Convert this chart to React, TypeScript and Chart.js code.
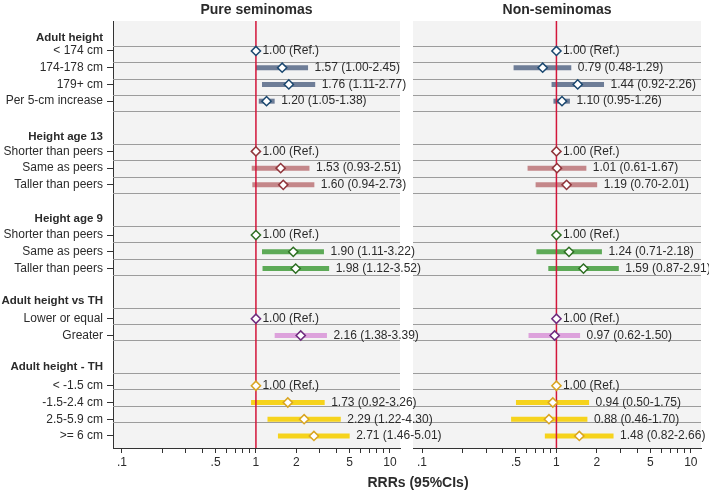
import React, { useEffect, useRef } from "react";
import { Chart, registerables } from "chart.js";
Chart.register(...registerables);

// ---------- data ----------
const groupNames = ["Adult height", "Height age 13", "Height age 9", "Adult height vs TH", "Adult height - TH"];
const groupRows = [0.2, 6.1, 11.05, 15.95, 19.85];

const categories = [
  "< 174 cm", "174-178 cm", "179+ cm", "Per 5-cm increase",
  "Shorter than peers", "Same as peers", "Taller than peers",
  "Shorter than peers", "Same as peers", "Taller than peers",
  "Lower or equal", "Greater",
  "< -1.5 cm", "-1.5-2.4 cm", "2.5-5.9 cm", ">= 6 cm",
];
const categoryRows = [1, 2, 3, 4, 7, 8, 9, 12, 13, 14, 17, 18, 21, 22, 23, 24];
const categoryGroup = [0, 0, 0, 0, 1, 1, 1, 2, 2, 2, 3, 3, 4, 4, 4, 4];

const pureEst = [1.0, 1.57, 1.76, 1.2, 1.0, 1.53, 1.6, 1.0, 1.9, 1.98, 1.0, 2.16, 1.0, 1.73, 2.29, 2.71];
const pureLo = [null, 1.0, 1.11, 1.05, null, 0.93, 0.94, null, 1.11, 1.12, null, 1.38, null, 0.92, 1.22, 1.46];
const pureHi = [null, 2.45, 2.77, 1.38, null, 2.51, 2.73, null, 3.22, 3.52, null, 3.39, null, 3.26, 4.3, 5.01];

const nonEst = [1.0, 0.79, 1.44, 1.1, 1.0, 1.01, 1.19, 1.0, 1.24, 1.59, 1.0, 0.97, 1.0, 0.94, 0.88, 1.48];
const nonLo = [null, 0.48, 0.92, 0.95, null, 0.61, 0.7, null, 0.71, 0.87, null, 0.62, null, 0.5, 0.46, 0.82];
const nonHi = [null, 1.29, 2.26, 1.26, null, 1.67, 2.01, null, 2.18, 2.91, null, 1.5, null, 1.75, 1.7, 2.66];

const xTickValues = [0.1, 0.2, 0.3, 0.4, 0.5, 0.6, 0.7, 0.8, 0.9, 1, 2, 3, 4, 5, 6, 7, 8, 9, 10];
const xTickLabelValues = [0.1, 0.5, 1, 2, 5, 10];
const xTickLabels = [".1", ".5", "1", "2", "5", "10"];

const gridRows = [0.7, 1.68, 2.65, 3.63, 4.61, 6.56, 7.54, 8.51, 9.49, 11.44, 12.42, 13.4, 14.37, 16.33, 17.3, 18.28, 20.23, 21.21, 22.19, 23.17];

const panelTitles = ["Pure seminomas", "Non-seminomas"];
const axisTitle = "RRRs (95%CIs)";
const REF_VALUE = 1;
const X_MIN = 0.0857;
const X_MAX = 11.9;
const Y_MIN = -0.79;
const Y_MAX = 24.72;

// ---------- styles ----------
const ciColors = ["#6e7d97", "#c4878a", "#5daa57", "#dda2dc", "#f6d31c"];
const markerColors = ["#1a476f", "#90353b", "#2d6e22", "#6e2c7e", "#d9a521"];
const FONT = "'Liberation Sans', Arial, Helvetica, sans-serif";
const TEXT = "#2b2b2b";

function fmt(v: number) {
  return v.toFixed(2);
}

function isHeader(v: any) {
  return groupRows.some((g) => Math.abs(g - Number(v)) < 1e-6);
}

function makeConfig(panel: number, est: number[], lo: (number | null)[], hi: (number | null)[]): any {
  const isLeft = panel === 0;
  const datasets: any[] = [];
  est.forEach((e, i) => {
    if (lo[i] != null && hi[i] != null) {
      datasets.push({
        data: [
          { x: lo[i], y: categoryRows[i] },
          { x: hi[i], y: categoryRows[i] },
        ],
        showLine: true,
        borderColor: ciColors[categoryGroup[i]],
        borderWidth: 5,
        borderCapStyle: "butt",
        pointRadius: 0,
        order: 2,
      });
    }
  });
  datasets.push({
    data: [
      { x: REF_VALUE, y: Y_MIN },
      { x: REF_VALUE, y: Y_MAX },
    ],
    showLine: true,
    borderColor: "#d3163a",
    borderWidth: 1.5,
    pointRadius: 0,
    order: 1,
  });
  datasets.push({
    data: est.map((e, i) => ({ x: e, y: categoryRows[i] })),
    showLine: false,
    pointStyle: "rectRot",
    pointRadius: 4.6,
    pointBackgroundColor: "#ffffff",
    pointBorderColor: categoryGroup.map((g) => markerColors[g]),
    pointBorderWidth: 1.5,
    order: 0,
  });

  const bgPlugin = {
    id: "bgPlugin" + panel,
    beforeDraw(chart: any) {
      const { ctx, chartArea } = chart;
      ctx.save();
      ctx.fillStyle = "#f3f3f3";
      ctx.fillRect(chartArea.left, chartArea.top, chartArea.right - chartArea.left, chartArea.bottom - chartArea.top);
      ctx.restore();
    },
    beforeDatasetsDraw(chart: any) {
      const { ctx, chartArea } = chart;
      const ys = chart.scales.y;
      ctx.save();
      ctx.strokeStyle = "#9c9c9c";
      ctx.lineWidth = 1;
      gridRows.forEach((r) => {
        const py = Math.round(ys.getPixelForValue(r)) + 0.5;
        ctx.beginPath();
        ctx.moveTo(chartArea.left, py);
        ctx.lineTo(chartArea.right, py);
        ctx.stroke();
      });
      ctx.restore();
    },
    afterDraw(chart: any) {
      const { ctx, chartArea } = chart;
      const xs = chart.scales.x;
      const ys = chart.scales.y;
      ctx.save();
      ctx.font = `12px ${FONT}`;
      ctx.fillStyle = TEXT;
      ctx.textBaseline = "middle";
      ctx.textAlign = "left";
      est.forEach((e, i) => {
        const anchor = hi[i] != null ? (hi[i] as number) : e;
        const px = xs.getPixelForValue(anchor) + 6.5;
        const py = ys.getPixelForValue(categoryRows[i]);
        const txt = hi[i] != null ? `${fmt(e)} (${fmt(lo[i] as number)}-${fmt(hi[i] as number)})` : `${fmt(e)} (Ref.)`;
        ctx.fillText(txt, px, py);
      });
      ctx.font = `bold 14px ${FONT}`;
      ctx.textAlign = "center";
      ctx.fillText(panelTitles[panel], (chartArea.left + chartArea.right) / 2, 10);
      if (!isLeft) {
        ctx.fillText(axisTitle, 418, 483);
      }
      ctx.restore();
    },
  };

  return {
    type: "scatter",
    data: { datasets },
    plugins: [bgPlugin],
    options: {
      responsive: false,
      animation: false,
      events: [],
      layout: {
        padding: isLeft ? { top: 21, left: 0, right: 709 - 400, bottom: 0 } : { top: 21, left: 413, right: 8, bottom: 0 },
      },
      plugins: { legend: { display: false }, tooltip: { enabled: false }, title: { display: false } },
      scales: {
        x: {
          type: "logarithmic",
          min: X_MIN,
          max: X_MAX,
          afterBuildTicks: (s: any) => {
            s.ticks = xTickValues.map((v) => ({ value: v }));
          },
          afterFit: (s: any) => {
            s.height = 45;
          },
          ticks: {
            autoSkip: false,
            maxRotation: 0,
            padding: 2,
            color: TEXT,
            font: { family: FONT, size: 12 },
            callback: (v: any) => {
              const idx = xTickLabelValues.findIndex((t) => Math.abs(t - Number(v)) < 1e-6);
              return idx >= 0 ? xTickLabels[idx] : "";
            },
          },
          grid: { drawOnChartArea: false, tickLength: 5, tickColor: "#333", tickWidth: 1 },
          border: { display: true, color: "#333", width: 1 },
        },
        y: {
          type: "linear",
          reverse: true,
          min: Y_MIN,
          max: Y_MAX,
          display: isLeft,
          afterBuildTicks: (s: any) => {
            const vals = [...groupRows, ...categoryRows].sort((a, b) => a - b);
            s.ticks = vals.map((v) => ({ value: v }));
          },
          afterFit: (s: any) => {
            s.width = isLeft ? 113 : 0;
          },
          ticks: {
            autoSkip: false,
            padding: 4,
            color: TEXT,
            font: (c: any) => {
              const v = c.tick ? c.tick.value : null;
              return isHeader(v)
                ? { family: FONT, size: 11.5, weight: "bold" }
                : { family: FONT, size: 12, weight: "normal" };
            },
            callback: (v: any) => {
              const g = groupRows.findIndex((r) => Math.abs(r - Number(v)) < 1e-6);
              if (g >= 0) return groupNames[g];
              const c = categoryRows.indexOf(Number(v));
              return c >= 0 ? categories[c] : "";
            },
          },
          grid: {
            drawOnChartArea: false,
            tickLength: 6,
            tickWidth: 1,
            tickColor: (c: any) => (c.tick && isHeader(c.tick.value) ? "rgba(0,0,0,0)" : "#333"),
          },
          border: { display: true, color: "#333", width: 1 },
        },
      },
    },
  };
}

export default function App() {
  const leftRef = useRef<HTMLCanvasElement>(null);
  const rightRef = useRef<HTMLCanvasElement>(null);
  useEffect(() => {
    document.body.style.margin = "0";
    const right = new Chart(rightRef.current as HTMLCanvasElement, makeConfig(1, nonEst, nonLo, nonHi));
    const left = new Chart(leftRef.current as HTMLCanvasElement, makeConfig(0, pureEst, pureLo, pureHi));
    return () => {
      left.destroy();
      right.destroy();
    };
  }, []);
  return (
    <div style={{ position: "relative", width: 709, height: 493, background: "#fff", overflow: "hidden" }}>
      <canvas ref={rightRef} width={709} height={493} style={{ position: "absolute", left: 0, top: 0, zIndex: 0 }} />
      <canvas ref={leftRef} width={709} height={493} style={{ position: "absolute", left: 0, top: 0, zIndex: 1 }} />
    </div>
  );
}
